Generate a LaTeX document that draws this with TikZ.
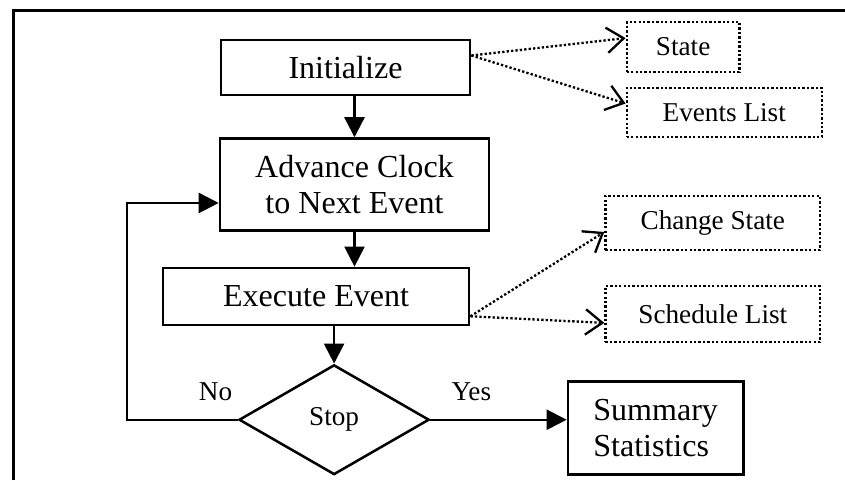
\documentclass[tikz,border=0pt]{standalone}
\usepackage{fontspec}
\setmainfont{Liberation Serif}
\usepackage{tikz}
\usetikzlibrary{shapes.geometric, arrows.meta, positioning}
\tikzstyle{process}  = [rectangle, draw, line width=1.3pt, align=center, inner sep=2pt, font=\fontsize{15.2}{16.8}\selectfont]
\tikzstyle{infobox}  = [rectangle, draw, densely dotted, line width=1.1pt, align=center, inner sep=2pt, font=\fontsize{12.9}{15}\selectfont]
\tikzstyle{decision} = [diamond, draw, line width=1.2pt, minimum width=3.17cm, minimum height=1.83cm, inner sep=1pt, font=\fontsize{12.9}{15}\selectfont]
\tikzstyle{answer}   = [font=\fontsize{12.9}{15}\selectfont]
\tikzstyle{arrow}    = [-{Triangle[length=9.5pt, width=9.5pt]}, line width=1.1pt]
\tikzstyle{dotarrow} = [-{Straight Barb[length=8pt, width=12pt]}, densely dotted, line width=1.1pt]

\begin{document}
\begin{tikzpicture}[node distance=0.62cm]
    \useasboundingbox (0,0) rectangle (14.083,8);
    \draw [line width=1.3pt] (0.22,0) |- (14.1,7.83);

    \node (init) [process, minimum width=4.15cm, minimum height=0.92cm] at (5.758,6.875) {Initialize};
    \node (adv) [process, minimum width=4.48cm, minimum height=1.53cm, below=0.68cm of init, xshift=0.15cm] {Advance Clock\\to Next Event};
    \node (exec) [process, minimum width=5.1cm, minimum height=0.95cm, below=0.58cm of adv, xshift=-0.64cm] {Execute Event};
    \node (stop) [decision, below=of exec, xshift=0.3cm] {Stop};
    \node (summ) [process, align=left, minimum width=2.92cm, minimum height=1.55cm, right=2.27cm of stop, yshift=-0.14cm] {Summary\\Statistics};

    \node (state) [infobox, minimum width=1.88cm, minimum height=0.83cm, right=2.57cm of init, yshift=0.34cm] {State};
    \node (evlist) [infobox, minimum width=3.25cm, minimum height=0.82cm, right=2.57cm of init, yshift=-0.75cm] {Events List};
    \node (chg) [infobox, minimum width=3.58cm, minimum height=0.9cm, right=2.23cm of exec, yshift=1.225cm] {Change State};
    \node (sched) [infobox, minimum width=3.58cm, minimum height=0.93cm, right=2.23cm of exec, yshift=-0.29cm] {Schedule List};

    \coordinate (back) at (2.117,4.617);

    \draw [arrow] (init.south -| adv.north) -- (adv.north);
    \draw [arrow] (adv.south) -- (adv.south |- exec.north);
    \draw [arrow] (exec.south -| stop.north) -- (stop.north);

    \draw [arrow] (stop.east) -- node[answer, above=5pt, pos=0.3]{Yes} (stop.east -| summ.west);
    \draw [arrow] (stop.west) -| node[answer, above=5pt, pos=0.1]{No} (back) -- (back -| adv.west);

    \draw [dotarrow] ([yshift=0.2cm]init.east) -- ([yshift=0.15cm]state.west);
    \draw [dotarrow] ([yshift=0.2cm]init.east) -- ([yshift=0.15cm]evlist.west);
    \draw [dotarrow] ([yshift=-0.33cm]exec.east) -- ([yshift=-0.15cm]chg.west);
    \draw [dotarrow] ([yshift=-0.33cm]exec.east) -- ([yshift=-0.15cm]sched.west);
  \end{tikzpicture}
\end{document}
